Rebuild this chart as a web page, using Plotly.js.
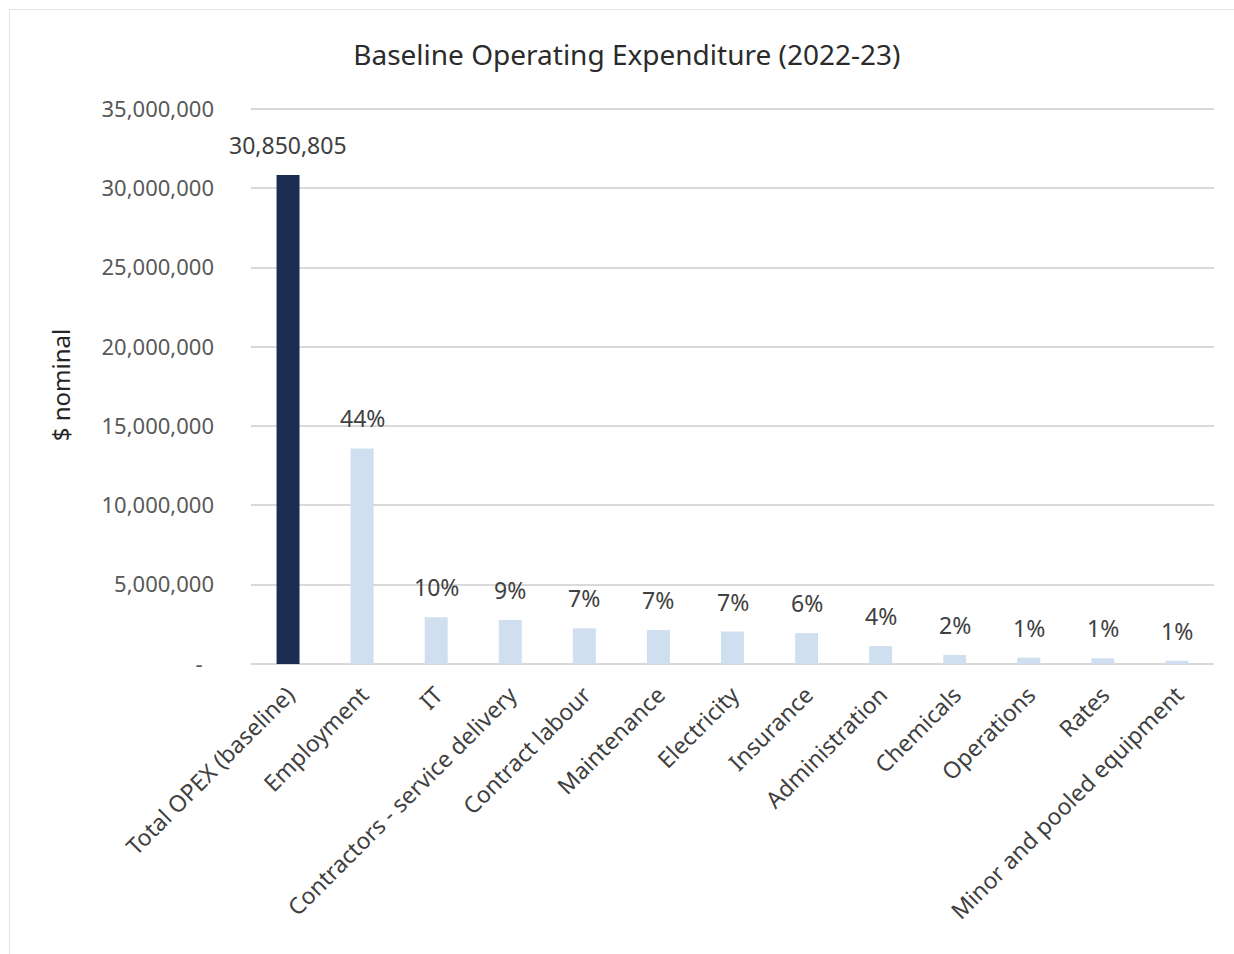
<!DOCTYPE html>
<html>
<head>
<meta charset="utf-8">
<script src="https://cdn.plot.ly/plotly-3.0.1.min.js"></script>
<style>
html,body{margin:0;padding:0;background:#fff;}
#chart{width:1234px;height:954px;}
#frame{position:absolute;left:9px;top:9px;width:1240px;height:960px;border:1px solid #e3e3e3;pointer-events:none;}
</style>
</head>
<body>
<div id="chart"></div>
<div id="frame"></div>
<script>
const categories = ["Total OPEX (baseline)", "Employment", "IT", "Contractors - service delivery", "Contract labour", "Maintenance", "Electricity", "Insurance", "Administration", "Chemicals", "Operations", "Rates", "Minor and pooled equipment"];
const values = [30850805, 13600000, 2950000, 2770000, 2250000, 2140000, 2050000, 1950000, 1130000, 570000, 400000, 360000, 200000];
const dataLabels = ["30,850,805", "44%", "10%", "9%", "7%", "7%", "7%", "6%", "4%", "2%", "1%", "1%", "1%"];
const yTickVals = [0, 5000000, 10000000, 15000000, 20000000, 25000000, 30000000, 35000000];
const yTickText = ["-\u00a0\u00a0", "5,000,000", "10,000,000", "15,000,000", "20,000,000", "25,000,000", "30,000,000", "35,000,000"];

const barColors = categories.map((c, i) => i === 0 ? "#1b2b52" : "#d0dff0");

const trace = {
  type: "bar",
  x: categories,
  y: values,
  marker: {color: barColors},
  hoverinfo: "x+y"
};

const annotations = categories.map((c, i) => ({
  x: c, y: values[i], xref: "x", yref: "y",
  text: dataLabels[i], showarrow: false,
  yanchor: "bottom", yshift: 12,
  font: {family: "Noto Sans, Open Sans, sans-serif", size: 23, color: "#404040"}
}));

const layout = {
  width: 1234, height: 954,
  paper_bgcolor: "#fff", plot_bgcolor: "#fff",
  margin: {l: 251, r: 20, t: 106, b: 290},
  bargap: 0.69,
  showlegend: false,
  font: {family: "Noto Sans, Open Sans, sans-serif", color: "#595959"},
  title: {
    text: "Baseline Operating Expenditure (2022-23)",
    font: {family: "Noto Sans, Open Sans, sans-serif", size: 28, color: "#2b2b2b"},
    xref: "container", yref: "container", x: 0.508, y: 0.942, xanchor: "center", yanchor: "middle"
  },
  xaxis: {
    type: "category",
    automargin: false,
    range: [-0.5, 12.5],
    tickangle: -45,
    tickfont: {size: 23, color: "#404040"},
    ticklabelstandoff: 12,
    showgrid: false, showline: false, zeroline: false, ticks: ""
  },
  yaxis: {
    automargin: false,
    range: [0, 35200000],
    tickvals: yTickVals, ticktext: yTickText,
    tickfont: {size: 22, color: "#595959"},
    showgrid: true, gridcolor: "#d9d9d9", gridwidth: 1.5,
    zeroline: true, zerolinecolor: "#d9d9d9", zerolinewidth: 1.5,
    ticks: "", ticklabelstandoff: 36,
    title: {text: "$ nominal", font: {size: 24, color: "#262626"}, standoff: 24}
  },
  annotations: annotations
};

Plotly.newPlot("chart", [trace], layout, {displayModeBar: false, responsive: false});
</script>
</body>
</html>
